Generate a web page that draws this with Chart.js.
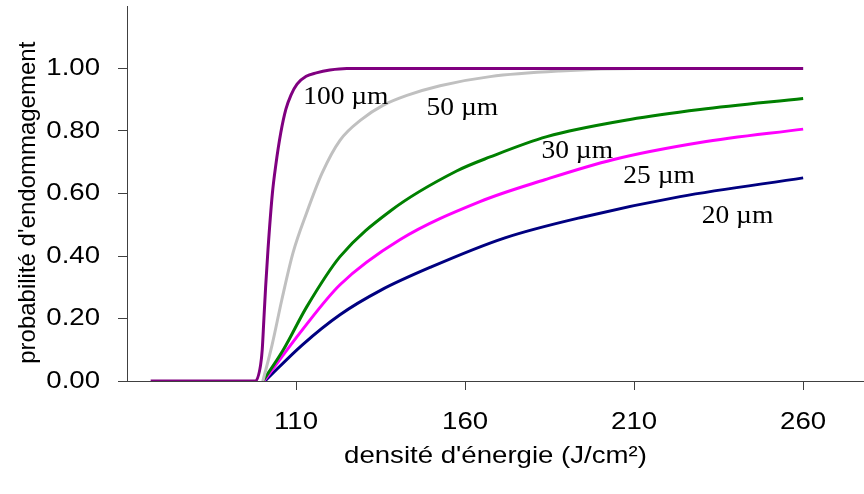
<!DOCTYPE html>
<html>
<head>
<meta charset="utf-8">
<script src="https://cdn.jsdelivr.net/npm/chart.js@4"></script>
<style>
  html, body { margin: 0; padding: 0; background: #fff; }
  #wrap { width: 864px; height: 494px; }
</style>
</head>
<body>
<div id="wrap"><canvas id="c" width="864" height="494"></canvas></div>
<script>
// ---- data ----
const seriesNames = ['100 µm', '50 µm', '30 µm', '25 µm', '20 µm'];

const x100 = [67, 98, 99.5, 100, 100.5, 101, 101.7, 103, 104, 105.5, 107, 108.5, 110.3, 113, 116, 120, 125, 260];
const y100 = [0, 0, 0.05, 0.1, 0.2, 0.3, 0.42, 0.6, 0.69, 0.795, 0.87, 0.915, 0.95, 0.975, 0.986, 0.995, 1.0, 1.0];

const x50 = [100.2, 102.9, 105.8, 109.1, 113.2, 117.7, 123, 129.5, 135.7, 142.8, 152.6, 167.4, 188, 211, 260];
const y50 = [0, 0.115, 0.26, 0.41, 0.54, 0.665, 0.77, 0.838, 0.882, 0.914, 0.945, 0.974, 0.992, 1.0, 1.0];

const x30 = [100.2, 106.2, 113.2, 123, 138, 157.5, 167.4, 184.2, 208.8, 229.5, 260];
const y30 = [0, 0.099, 0.238, 0.398, 0.545, 0.672, 0.717, 0.782, 0.837, 0.869, 0.904];

const x25 = [100.5, 111.8, 123, 140.7, 164.4, 183.6, 203.7, 229.5, 260];
const y25 = [0, 0.163, 0.308, 0.452, 0.574, 0.644, 0.708, 0.763, 0.806];

const x20 = [100.8, 111.8, 123, 135, 150, 171.8, 195, 223.6, 260];
const y20 = [0, 0.115, 0.212, 0.29, 0.365, 0.458, 0.525, 0.59, 0.65];

const xTicks = [110, 160, 210, 260];
const yTicks = [0, 0.2, 0.4, 0.6, 0.8, 1.0];
const xTitle = "densité d'énergie (J/cm²)";
const yTitle = "probabilité d'endommagement";

// label anchors (data units): left edge x, baseline y
const labelX = [112.1, 148.6, 182.6, 206.8, 230];
const labelY = [0.888, 0.850, 0.714, 0.633, 0.505];

const colors = ['#800080', '#C0C0C0', '#008000', '#FF00FF', '#000080'];
const xs = [x100, x50, x30, x25, x20];
const ys = [y100, y50, y30, y25, y20];

const datasets = seriesNames.map((name, i) => ({
  label: name,
  data: xs[i].map((x, j) => ({ x: x, y: ys[i][j] })),
  borderColor: colors[i],
  borderWidth: 3,
  pointRadius: 0,
  fill: false,
  cubicInterpolationMode: 'monotone',
  showLine: true
}));

const SANS = '"Liberation Sans", Arial, sans-serif';
const STRETCH = 1.15;

function stretchedText(ctx, text, x, y, align, baseline, k, rot) {
  ctx.save();
  ctx.translate(x, y);
  if (rot) ctx.rotate(rot);
  ctx.scale(k, 1);
  ctx.textAlign = align;
  ctx.textBaseline = baseline;
  ctx.fillText(text, 0, 0);
  ctx.restore();
}

const textPlugin = {
  id: 'texts',
  afterDraw(chart) {
    const ctx = chart.ctx;
    const sx = chart.scales.x, sy = chart.scales.y;
    const area = chart.chartArea;
    ctx.save();
    ctx.fillStyle = '#000';
    ctx.font = '24px ' + SANS;
    // y tick labels
    yTicks.forEach(v => {
      stretchedText(ctx, v.toFixed(2), area.left - 27, sy.getPixelForValue(v), 'right', 'middle', STRETCH);
    });
    // x tick labels
    xTicks.forEach(v => {
      stretchedText(ctx, String(v), sx.getPixelForValue(v), area.bottom + 48, 'center', 'alphabetic', STRETCH);
    });
    // x title
    stretchedText(ctx, xTitle, (area.left + area.right) / 2, area.bottom + 82, 'center', 'alphabetic', STRETCH);
    // y title (rotated)
    stretchedText(ctx, yTitle, area.left - 99, (sy.getPixelForValue(0) + sy.getPixelForValue(1)) / 2 - 22, 'center', 'middle', 1, -Math.PI / 2);
    // curve labels
    ctx.font = '25px "Liberation Serif", "Times New Roman", serif';
    seriesNames.forEach((name, i) => {
      stretchedText(ctx, name, sx.getPixelForValue(labelX[i]), sy.getPixelForValue(labelY[i]), 'left', 'alphabetic', 1.1);
    });
    ctx.restore();
  }
};

new Chart(document.getElementById('c'), {
  type: 'scatter',
  data: { datasets },
  plugins: [textPlugin],
  options: {
    responsive: false,
    animation: false,
    devicePixelRatio: 1,
    layout: { padding: { top: 6, right: 0, left: 0, bottom: 0 } },
    plugins: { legend: { display: false }, tooltip: { enabled: false } },
    scales: {
      x: {
        type: 'linear',
        min: 60,
        max: 278,
        afterBuildTicks: (s) => { s.ticks = xTicks.map(v => ({ value: v })); },
        afterFit: (s) => { s.height = 113; s.paddingLeft = 0; s.paddingRight = 0; },
        grid: { drawOnChartArea: false, drawTicks: true, tickLength: 9, color: '#404040', lineWidth: 1 },
        border: { display: true, color: '#404040', width: 1 },
        ticks: { display: false },
        title: { display: false }
      },
      y: {
        type: 'linear',
        min: 0,
        max: 1.2,
        afterBuildTicks: (s) => { s.ticks = yTicks.map(v => ({ value: v })); },
        afterFit: (s) => { s.width = 127; s.paddingTop = 0; s.paddingBottom = 0; },
        grid: { drawOnChartArea: false, drawTicks: true, tickLength: 9, color: '#404040', lineWidth: 1 },
        border: { display: true, color: '#404040', width: 1 },
        ticks: { display: false },
        title: { display: false }
      }
    }
  }
});
</script>
</body>
</html>
